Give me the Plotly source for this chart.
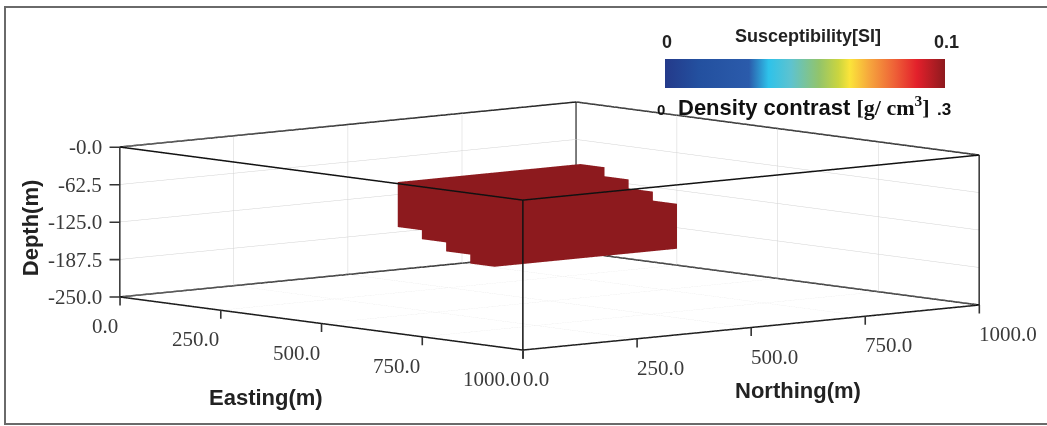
import plotly.graph_objects as go

# ---------------- data ----------------
E_RANGE = [0, 1000]
N_RANGE = [0, 1000]
Z_RANGE = [-250, 0]

E_TICKS = [0, 250, 500, 750, 1000]
E_TICKTEXT = ["0.0", "250.0", "500.0", "750.0", "1000.0"]
N_TICKS = [0, 250, 500, 750, 1000]
N_TICKTEXT = ["0.0", "250.0", "500.0", "750.0", "1000.0"]
Z_TICKS = [-250, -187.5, -125, -62.5, 0]
Z_TICKTEXT = ["-250.0", "-187.5", "-125.0", "-62.5", "-0.0"]

# stepped (dipping) anomalous body, one prism per easting column
COL_E_WEST = [350, 410, 470, 530]
COL_E_EAST = [410, 470, 530, 590]
COL_N_SOUTH = [300, 300, 300, 300]
COL_N_NORTH = [700, 700, 700, 700]
COL_Z_TOP = [-50, -65, -80, -95]
COL_Z_BOTTOM = [-125, -140, -155, -170]
BODY_SUSC = 0.1

SUSC_RANGE = [0, 0.1]
SUSC_LABELS = ["0", "0.1"]
DENS_LABELS = ["0", ".3"]

JET = [[0.0, "#243a8a"], [0.12, "#23509f"], [0.30, "#2b5bab"], [0.37, "#2ec2ea"],
       [0.45, "#5ec3cf"], [0.55, "#92c46b"], [0.62, "#cbd53f"], [0.66, "#fbe43a"],
       [0.73, "#f6a63d"], [0.82, "#ee6137"], [0.90, "#e3202b"], [1.0, "#8d1a1e"]]

# ---------------- body mesh ----------------
xs, ys, zs, I, J, K = [], [], [], [], [], []
FACES = [(0, 1, 2), (0, 2, 3), (4, 5, 6), (4, 6, 7), (0, 1, 5), (0, 5, 4),
         (1, 2, 6), (1, 6, 5), (2, 3, 7), (2, 7, 6), (3, 0, 4), (3, 4, 7)]
for e0, e1, n0, n1, zt, zb in zip(COL_E_WEST, COL_E_EAST, COL_N_SOUTH, COL_N_NORTH,
                                  COL_Z_TOP, COL_Z_BOTTOM):
    b = len(xs)
    for (e, n, z) in [(e0, n0, zb), (e1, n0, zb), (e1, n1, zb), (e0, n1, zb),
                      (e0, n0, zt), (e1, n0, zt), (e1, n1, zt), (e0, n1, zt)]:
        xs.append(e); ys.append(n); zs.append(z)
    for f in FACES:
        I.append(b + f[0]); J.append(b + f[1]); K.append(b + f[2])

body = go.Mesh3d(
    x=xs, y=ys, z=zs, i=I, j=J, k=K,
    intensity=[BODY_SUSC] * len(xs), cmin=SUSC_RANGE[0], cmax=SUSC_RANGE[1],
    colorscale=JET, flatshading=True,
    lighting=dict(ambient=1.0, diffuse=0.0, specular=0.0, roughness=1.0, fresnel=0.0),
    showscale=True,
    colorbar=dict(orientation="h", x=665 / 1047, xanchor="left", y=1 - 59 / 426, yanchor="top",
                  len=280, lenmode="pixels", thickness=29, thicknessmode="pixels",
                  outlinewidth=0, xpad=0, ypad=0, showticklabels=False, ticks=""),
    hoverinfo="skip",
)

# ---------------- bounding box edges ----------------
ex, ey, ez = [], [], []
E0, E1 = E_RANGE
N0, N1 = N_RANGE
Z0, Z1 = Z_RANGE
for z in (Z0, Z1):
    for (a, b) in [((E0, N0), (E1, N0)), ((E1, N0), (E1, N1)), ((E1, N1), (E0, N1)), ((E0, N1), (E0, N0))]:
        ex += [a[0], b[0], None]; ey += [a[1], b[1], None]; ez += [z, z, None]
for (e, n) in [(E0, N0), (E1, N0), (E1, N1), (E0, N1)]:
    ex += [e, e, None]; ey += [n, n, None]; ez += [Z0, Z1, None]
edges = go.Scatter3d(x=ex, y=ey, z=ez, mode="lines", line=dict(color="#111111", width=3),
                     hoverinfo="skip", showlegend=False)

fig = go.Figure([body, edges])

# ---------------- annotations (ticks & titles) ----------------
TICKFONT = dict(family="Liberation Serif", size=21, color="#3a3a3a")
TITLEFONT = dict(family="Liberation Sans", size=22, color="#222222")
TICKMARK = dict(showarrow=True, arrowhead=0, arrowwidth=1.6, arrowcolor="#333333",
                standoff=0, startstandoff=0, text="")
ann = []
for v, t in zip(Z_TICKS, Z_TICKTEXT):
    ann.append(dict(x=E0, y=N0, z=v, text=t, showarrow=False, xanchor="right", yanchor="middle",
                    xshift=-16, font=TICKFONT))
    ann.append(dict(x=E0, y=N0, z=v, ax=-12, ay=0, **TICKMARK))
for v, t in zip(E_TICKS, E_TICKTEXT):
    ann.append(dict(x=v, y=N0, z=Z0, text=t, showarrow=False, xanchor="right", yanchor="middle",
                    yshift=-29, font=TICKFONT))
    ann.append(dict(x=v, y=N0, z=Z0, ax=0, ay=10, **TICKMARK))
for v, t in zip(N_TICKS, N_TICKTEXT):
    ann.append(dict(x=E1, y=v, z=Z0, text=t, showarrow=False, xanchor="left", yanchor="middle",
                    xshift=-2, yshift=-29, font=TICKFONT))
    ann.append(dict(x=E1, y=v, z=Z0, ax=0, ay=10, **TICKMARK))
ann.append(dict(x=E0, y=N0, z=(Z0 + Z1) / 2, text="<b>Depth(m)</b>", showarrow=False,
                textangle=-90, xanchor="center", yanchor="middle", xshift=-90, yshift=-6, font=TITLEFONT))
ann.append(dict(x=(E0 + E1) / 2, y=N0, z=Z0, text="<b>Easting(m)</b>", showarrow=False,
                xanchor="center", yanchor="middle", xshift=-56, yshift=-74, font=TITLEFONT))
ann.append(dict(x=E1, y=(N0 + N1) / 2, z=Z0, text="<b>Northing(m)</b>", showarrow=False,
                xanchor="center", yanchor="middle", xshift=47, yshift=-63, font=TITLEFONT))

axis_common = dict(showline=False, showgrid=True, gridcolor="#d2d2d2", gridwidth=1,
                   zeroline=False, showbackground=False, showticklabels=False,
                   ticks="", title=dict(text=""), showspikes=False)

eye_dir = (0.751, -0.650, 0.114)
R = 5.0
ZOOM = 3.08
fig.update_layout(
    width=1047, height=426, margin=dict(l=0, r=0, t=0, b=0),
    paper_bgcolor="white", showlegend=False,
    scene=dict(
        domain=dict(x=[0.05, 1.0], y=[0.0, 0.938]),
        xaxis=dict(range=E_RANGE, tickvals=E_TICKS, **axis_common),
        yaxis=dict(range=N_RANGE, tickvals=N_TICKS, **axis_common),
        zaxis=dict(range=Z_RANGE, tickvals=Z_TICKS, **axis_common),
        aspectmode="manual", aspectratio=dict(x=1 * ZOOM, y=0.98 * ZOOM, z=0.245 * ZOOM),
        camera=dict(eye=dict(x=R * eye_dir[0], y=R * eye_dir[1], z=R * eye_dir[2]),
                    up=dict(x=0, y=0, z=1), center=dict(x=0, y=0, z=0),
                    projection=dict(type="orthographic")),
        bgcolor="white",
        annotations=ann,
    ),
    shapes=[dict(type="rect", xref="paper", yref="paper", x0=5 / 1047, x1=1.02,
                 y0=1 - 424 / 426, y1=1 - 7 / 426, line=dict(color="#6a6a6a", width=2))],
)

# colour bar labels
CBFONT = dict(family="Liberation Sans", size=18, color="#222222")
def cb_label(x, y, text, font):
    fig.add_annotation(xref="paper", yref="paper", x=x / 1047, y=1 - y / 426, text=text,
                       showarrow=False, xanchor="center", yanchor="middle", font=font)

cb_label(667, 42, "<b>%s</b>" % SUSC_LABELS[0], CBFONT)
cb_label(946, 42, "<b>%s</b>" % SUSC_LABELS[1], CBFONT)
cb_label(808, 36, "<b>Susceptibility[SI]</b>", CBFONT)
cb_label(661, 110, "<b>%s</b>" % DENS_LABELS[0], dict(family="Liberation Sans", size=15, color="#111"))
cb_label(944, 109, "<b>%s</b>" % DENS_LABELS[1], dict(family="Liberation Sans", size=17, color="#111"))
cb_label(804, 106, "<b>Density contrast <span style='font-family:Liberation Serif'>[g/ cm<sup>3</sup>]</span></b>",
         dict(family="Liberation Sans", size=22, color="#111"))

fig.write_html("out.html")
